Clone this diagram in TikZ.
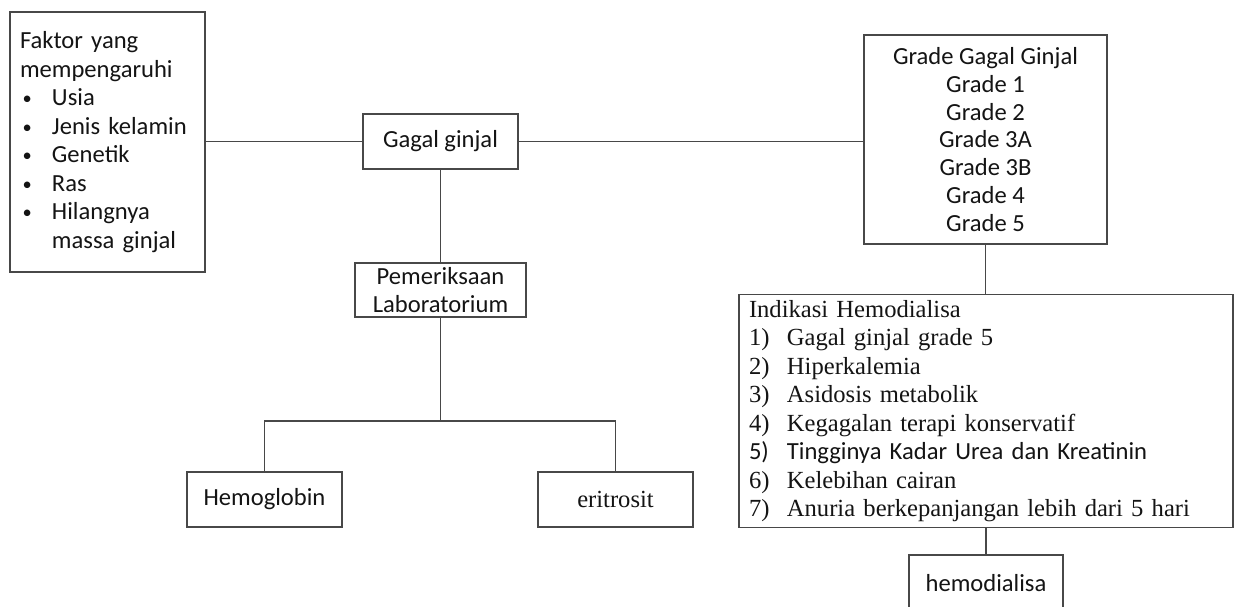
\documentclass[tikz,border=0pt]{standalone}
\usepackage{fontspec}
\setmainfont{Carlito}
\newfontfamily\tnr{Liberation Serif}
\definecolor{linec}{HTML}{484848}
\definecolor{textc}{HTML}{141414}
\newlength\bulw \setlength\bulw{18.2pt}
\newlength\numw \setlength\numw{21.6pt}
\newcommand\bul[1]{\makebox[\bulw][l]{\hspace{1.5pt}\raisebox{0.6pt}{\scalebox{0.75}{•}}}#1}
\newcommand\num[2]{\makebox[\numw][l]{#1}#2}
\begin{document}
\begin{tikzpicture}[x=0.02cm,y=-0.02cm,
  box/.style={draw=linec,line width=0.75pt,inner sep=0pt,text=textc,
    font=\fontsize{14}{16.2}\selectfont},
  conn/.style={draw=linec,line width=0.75pt}]
\useasboundingbox (0,0) rectangle (1234,607);
\clip (0,0) rectangle (1234,607);
\fill[white] (0,0) rectangle (1234,607);

\node[box,minimum width=195*0.02cm,minimum height=260*0.02cm,
  text width=175*0.02cm,align=left] (faktor) at (107.5,142)
  {Faktor yang\\ mempengaruhi\\ \bul{Usia}\\ \bul{Jenis kelamin}\\ \bul{Genetik}\\
   \bul{Ras}\\ \bul{Hilangnya}\\ \hspace*{\bulw}massa ginjal};

\node[box,minimum width=155*0.02cm,minimum height=55*0.02cm] (gagal) at (440.5,141.5) {Gagal ginjal};

\node[box,minimum width=171*0.02cm,minimum height=54*0.02cm,align=center,
  font=\fontsize{14}{15.9}\selectfont] (pem) at (440.5,290)
  {Pemeriksaan\\ Laboratorium};

\node[box,minimum width=155*0.02cm,minimum height=55*0.02cm] (hb) at (264.5,499.5) {Hemoglobin};
\node[box,minimum width=155*0.02cm,minimum height=55*0.02cm,font=\tnr\fontsize{14}{16.2}\selectfont] (eri) at (615.5,499.5) {eritrosit};

\node[box,minimum width=243*0.02cm,minimum height=209*0.02cm,align=center,
  font=\fontsize{14}{15.9}\selectfont] (grade) at (985.5,139.5)
  {Grade Gagal Ginjal\\ Grade 1\\ Grade 2\\ Grade 3A\\ Grade 3B\\ Grade 4\\ Grade 5};

\node[box,minimum width=494*0.02cm,minimum height=233*0.02cm,
  text width=474*0.02cm,align=left,font=\tnr\fontsize{14}{16.2}\selectfont] (ind) at (986,411)
  {Indikasi Hemodialisa\\
   \num{1)}{Gagal ginjal grade 5}\\
   \num{2)}{Hiperkalemia}\\
   \num{3)}{Asidosis metabolik}\\
   \num{4)}{Kegagalan terapi konservatif}\\
   {\rmfamily\normalfont\fontsize{14}{16.2}\selectfont\num{5)}{Tingginya Kadar Urea dan Kreatinin}}\\
   \num{6)}{Kelebihan cairan}\\
   \num{7)}{Anuria berkepanjangan lebih dari 5 hari}};

\node[box,minimum width=154*0.02cm,minimum height=56*0.02cm] (hd) at (986,583) {hemodialisa};

\coordinate (j) at (440.5,421);

\draw[conn] (faktor.east |- gagal.west) -- (gagal.west);
\draw[conn] (gagal.east) -- (grade.west |- gagal.east);
\draw[conn] (gagal.south) -- (pem.north);
\draw[conn] (pem.south) -- (j);
\draw[conn] (hb.north) |- (j) -| (eri.north);
\draw[conn] (grade.south) -- (grade.south |- ind.north);
\draw[conn] (ind.south) -- (hd.north);
\end{tikzpicture}
\end{document}
